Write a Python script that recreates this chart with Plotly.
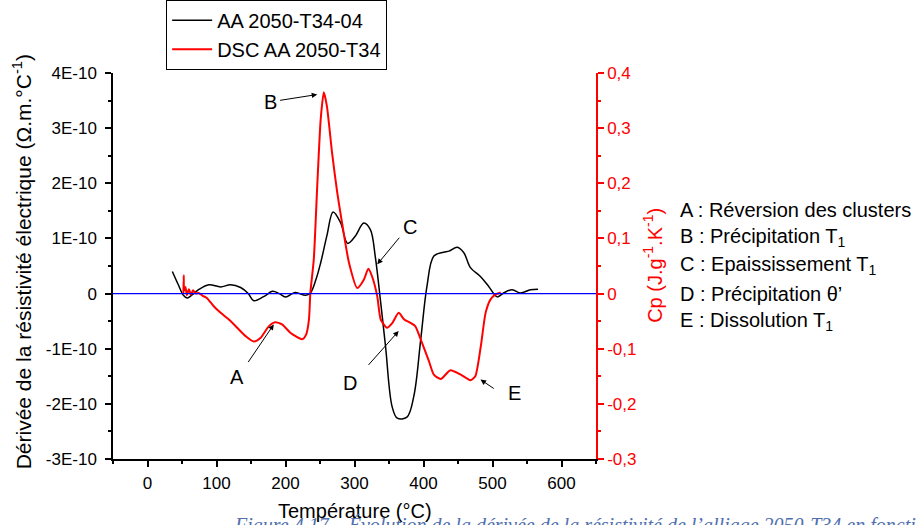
import plotly.graph_objects as go

# Black curve: derivative of electrical resistivity (Ohm.m/°C)
temp_res = [36, 45, 52, 57.5, 65, 74, 89, 106, 120, 135, 146, 154, 169, 181, 191, 200, 214, 229, 236,
            244, 251, 260, 269, 280, 290, 301, 313.5, 323, 330, 338, 345, 354.5, 362, 376, 386, 396,
            405, 415, 429, 437, 449, 458.5, 468, 482.5, 494.5, 507, 516, 528.5, 540.5, 555, 566]
dres = [0.40e-10, 0.15e-10, -0.03e-10, -0.08e-10, -0.02e-10, 0.07e-10, 0.16e-10, 0.12e-10, 0.16e-10,
        0.11e-10, 0.0, -0.13e-10, -0.05e-10, 0.04e-10, 0.0, -0.06e-10, 0.02e-10, -0.03e-10, 0.01e-10,
        0.25e-10, 0.56e-10, 1.05e-10, 1.48e-10, 1.28e-10, 0.91e-10, 1.04e-10, 1.28e-10, 1.16e-10,
        0.68e-10, -0.17e-10, -0.96e-10, -2.05e-10, -2.26e-10, -2.24e-10, -1.86e-10, -0.83e-10,
        0.13e-10, 0.68e-10, 0.75e-10, 0.77e-10, 0.84e-10, 0.74e-10, 0.47e-10, 0.31e-10, 0.13e-10,
        -0.06e-10, 0.01e-10, 0.07e-10, 0.01e-10, 0.07e-10, 0.08e-10]

# Red curve: DSC Cp (J/g/K)
temp_dsc = [52, 52.5, 53, 55, 57, 60, 63, 66, 70, 74, 80, 86, 96, 106, 118, 130, 142, 154, 164, 176,
            185, 195, 207, 224, 230, 234, 236, 241, 246, 251, 255.5, 260, 267.5, 275, 282, 292, 304,
            313.5, 320, 325.5, 333, 338, 347, 355, 364, 372, 381, 388, 398, 408, 415, 425, 439, 454,
            468, 475, 483, 490, 497, 504, 512]
cp = [0.0, 0.033, 0.005, 0.012, -0.003, 0.008, -0.002, 0.006, 0.0, 0.001, -0.004, -0.008, -0.023,
      -0.035, -0.047, -0.062, -0.077, -0.087, -0.080, -0.059, -0.052, -0.056, -0.071, -0.083, -0.074,
      -0.047, 0.001, 0.062, 0.195, 0.316, 0.365, 0.34, 0.255, 0.183, 0.128, 0.056, 0.010, 0.025,
      0.045, 0.031, -0.005, -0.047, -0.062, -0.053, -0.035, -0.047, -0.053, -0.059, -0.090, -0.123,
      -0.147, -0.155, -0.139, -0.147, -0.157, -0.150, -0.096, -0.035, -0.011, -0.002, 0.002]

x_ticks = [0, 100, 200, 300, 400, 500, 600]
y_ticks = [-3e-10, -2e-10, -1e-10, 0, 1e-10, 2e-10, 3e-10, 4e-10]
y_ticktext = ["-3E-10", "-2E-10", "-1E-10", "0", "1E-10", "2E-10", "3E-10", "4E-10"]
y2_ticks = [-0.3, -0.2, -0.1, 0, 0.1, 0.2, 0.3, 0.4]
y2_ticktext = ["-0,3", "-0,2", "-0,1", "0", "0,1", "0,2", "0,3", "0,4"]

labels = ["A : Réversion des clusters", "B : Précipitation T<sub>1</sub>",
          "C : Epaississement T<sub>1</sub>", "D : Précipitation θ’", "E : Dissolution T<sub>1</sub>"]
# letter annotations: (letter, text x, text y, arrow tail x, tail y, head x, head y)
arrows = [
    ("A", 130, -1.52e-10, 144.5, -1.27e-10, 183, -0.56e-10),
    ("B", 178, 3.47e-10, 190, 3.50e-10, 246, 3.61e-10),
    ("C", 381, 1.20e-10, 366.7, 1.04e-10, 333, 0.53e-10),
    ("D", 294, -1.62e-10, 318.4, -1.32e-10, 364, -0.68e-10),
    ("E", 532, -1.80e-10, 504, -1.74e-10, 482.6, -1.56e-10),
]

FONT = "Arial, Liberation Sans, sans-serif"
TICKF = 17

fig = go.Figure()
fig.add_trace(go.Scatter(x=temp_res, y=dres, mode="lines", name="AA 2050-T34-04",
                         line=dict(color="black", width=1.5, shape="spline", smoothing=1.0)))
fig.add_trace(go.Scatter(x=temp_dsc, y=cp, mode="lines", name="DSC AA 2050-T34", yaxis="y2",
                         line=dict(color="red", width=2, shape="spline", smoothing=0.6)))

# blue zero reference line across the full plot width
fig.add_shape(type="line", xref="paper", x0=0, x1=1, yref="y", y0=0, y1=0,
              line=dict(color="#0000ff", width=1.3), layer="above")

annotations = []
for i, lab in enumerate(labels):
    annotations.append(dict(text=lab, xref="paper", yref="paper", x=1.170, y=0.645 - i * 0.0722,
                            xanchor="left", yanchor="middle", showarrow=False,
                            font=dict(family=FONT, size=20, color="black")))
for (let, tx, ty, ax, ay, hx, hy) in arrows:
    annotations.append(dict(text=let, x=tx, y=ty, xref="x", yref="y", showarrow=False,
                            font=dict(family=FONT, size=20, color="black")))
    annotations.append(dict(text="", x=hx, y=hy, xref="x", yref="y", ax=ax, ay=ay,
                            axref="x", ayref="y", showarrow=True, arrowhead=2, arrowsize=1.1,
                            arrowwidth=1, arrowcolor="black", standoff=0, startstandoff=0))
annotations.append(dict(text="Dérivée de la résistivité électrique (Ω.m.°C<sup>-1</sup>)",
                        xref="paper", yref="paper", x=-0.188, y=0.51, textangle=-90,
                        showarrow=False, xanchor="center", yanchor="middle",
                        font=dict(family=FONT, size=21, color="black")))
annotations.append(dict(text="Cp (J.g<sup>-1</sup>.K<sup>-1</sup>)",
                        xref="paper", yref="paper", x=1.118, y=0.503, textangle=-90,
                        showarrow=False, xanchor="center", yanchor="middle",
                        font=dict(family=FONT, size=20, color="red")))
annotations.append(dict(text="Température (°C)", xref="paper", yref="paper", x=0.5, y=-0.135,
                        showarrow=False, xanchor="center", yanchor="middle",
                        font=dict(family=FONT, size=20, color="black")))
annotations.append(dict(text="<i>Figure 4.17 – Évolution de la dérivée de la résistivité de l’alliage 2050-T34 en fonction de la température</i>",
                        xref="paper", yref="paper", x=0.246, y=-0.137, xanchor="left", yanchor="top",
                        showarrow=False,
                        font=dict(family="Liberation Serif, serif", size=20, color="#4f6fae")))

fig.update_layout(
    width=916, height=525,
    margin=dict(l=113, r=320, t=73, b=66, autoexpand=False),
    plot_bgcolor="white", paper_bgcolor="white",
    font=dict(family=FONT, size=16, color="black"),
    showlegend=True,
    legend=dict(x=0.11, y=1.19, xanchor="left", yanchor="top", bgcolor="white",
                bordercolor="black", borderwidth=1, font=dict(family=FONT, size=20),
                tracegroupgap=0, itemwidth=40),
    annotations=annotations,
    xaxis=dict(range=[-50, 650], tickvals=x_ticks, showgrid=False, zeroline=False,
               showline=True, linecolor="black", linewidth=1.5, ticks="outside", ticklen=6,
               tickwidth=1.5, tickcolor="black", tickfont=dict(family=FONT, size=TICKF),
               ticklabelstandoff=2,
               minor=dict(dtick=50, tick0=-50, ticks="outside", ticklen=3, tickwidth=1.5, tickcolor="black")),
    yaxis=dict(range=[-3e-10, 4e-10], tickvals=y_ticks, ticktext=y_ticktext, showgrid=False,
               zeroline=False, ticklabelstandoff=5,
               showline=True, linecolor="black", linewidth=1.5, ticks="outside", ticklen=6,
               tickwidth=1.5, tickcolor="black", tickfont=dict(family=FONT, size=TICKF),
               minor=dict(dtick=0.5e-10, tick0=0, ticks="outside", ticklen=3, tickwidth=1.5, tickcolor="black")),
    yaxis2=dict(range=[-0.3, 0.4], tickvals=y2_ticks, ticktext=y2_ticktext, overlaying="y",
                side="right", anchor="x", showgrid=False, zeroline=False,
                showline=True, linecolor="red", linewidth=1.5, ticks="outside", ticklen=6,
                tickwidth=1.5, tickcolor="red", tickfont=dict(family=FONT, size=TICKF, color="red"),
                minor=dict(dtick=0.05, tick0=0, ticks="outside", ticklen=3, tickwidth=1.5, tickcolor="red")),
)

fig.write_html("out.html", config={"displayModeBar": False},
               post_script="document.body.style.margin='0px';")
